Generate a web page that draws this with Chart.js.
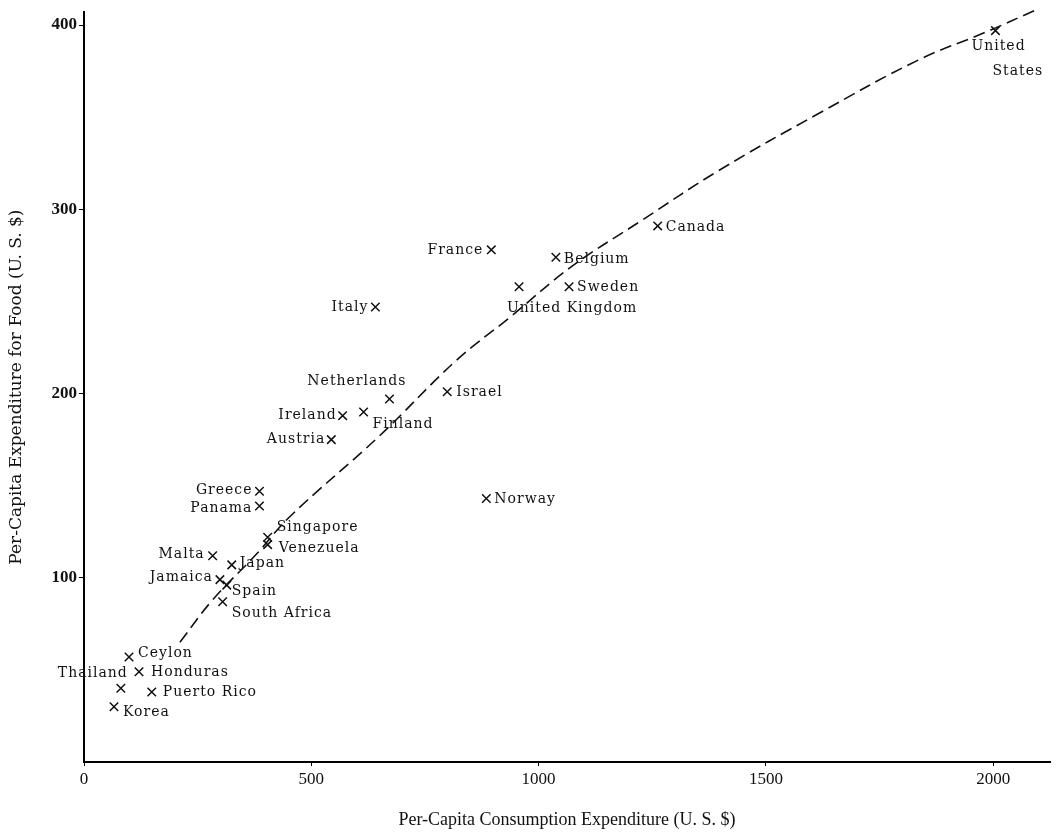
<!DOCTYPE html>
<html>
<head>
<meta charset="utf-8">
<script src="https://cdn.jsdelivr.net/npm/chart.js@4"></script>
<style>
  html, body { margin: 0; padding: 0; background: #fff; }
  #wrap { width: 1059px; height: 837px; }
</style>
</head>
<body>
<div id="wrap"><canvas id="foodChart" width="1059" height="837"></canvas></div>
<script>
// Countries, per-capita consumption expenditure (x) and food expenditure (y), U.S. $
const countries = [
  "United States", "Canada", "France", "Belgium", "United Kingdom", "Sweden",
  "Italy", "Israel", "Netherlands", "Ireland", "Finland", "Austria",
  "Greece", "Panama", "Norway", "Singapore", "Venezuela", "Malta",
  "Japan", "Jamaica", "Spain", "South Africa", "Ceylon", "Honduras",
  "Thailand", "Puerto Rico", "Korea"
];
const consumption = [
  2005, 1262, 896, 1038, 957, 1067,
  641, 799, 672, 569, 615, 544,
  386, 386, 885, 404, 404, 283,
  325, 299, 314, 305, 99, 121,
  81, 149, 66
];
const foodSpending = [
  397, 291, 278, 274, 258, 258,
  247, 201, 197, 188, 190, 175,
  147, 139, 143, 122, 118, 112,
  107, 99, 96, 87, 57, 49,
  40, 38, 30
];

// Dashed trend curve
const curveX = [211, 283, 380, 452, 650, 819, 935, 1073, 1227, 1396, 1616, 1835, 1982, 2092];
const curveY = [65, 88, 113, 133, 177, 218, 241, 269, 294, 321, 352, 381, 396, 408];

const xTicks = [0, 500, 1000, 1500, 2000];
const yTicks = [100, 200, 300, 400];

/**
 * Label placement (pixel offsets from the marker, text alignment)
 */
const labelPlacement = {
  "United States": { align: "left", lines: [["United", -24, 16], ["States", -3, 41]] },
  "Canada": { align: "left", dx: 8, dy: 1 },
  "France": { align: "right", dx: -8, dy: 1 },
  "Belgium": { align: "left", dx: 8, dy: 2 },
  "United Kingdom": { align: "left", dx: -12, dy: 22 },
  "Sweden": { align: "left", dx: 8, dy: 1 },
  "Italy": { align: "right", dx: -7, dy: 0 },
  "Israel": { align: "left", dx: 9, dy: 1 },
  "Netherlands": { align: "right", dx: 17, dy: -18 },
  "Ireland": { align: "right", dx: -6, dy: 0 },
  "Finland": { align: "left", dx: 9, dy: 12 },
  "Austria": { align: "right", dx: -6, dy: 0 },
  "Greece": { align: "right", dx: -7, dy: -1 },
  "Panama": { align: "right", dx: -7, dy: 2 },
  "Norway": { align: "left", dx: 8, dy: 1 },
  "Singapore": { align: "left", dx: 9, dy: -10 },
  "Venezuela": { align: "left", dx: 11, dy: 4 },
  "Malta": { align: "right", dx: -8, dy: -1 },
  "Japan": { align: "left", dx: 8, dy: -2 },
  "Jamaica": { align: "right", dx: -7, dy: -2 },
  "Spain": { align: "left", dx: 5, dy: 6 },
  "South Africa": { align: "left", dx: 9, dy: 12 },
  "Ceylon": { align: "left", dx: 9, dy: -4 },
  "Honduras": { align: "left", dx: 12, dy: 1 },
  "Thailand": { align: "right", dx: 7, dy: -15 },
  "Puerto Rico": { align: "left", dx: 11, dy: 0 },
  "Korea": { align: "left", dx: 9, dy: 6 },
};

const SERIF = "'DejaVu Serif', 'Liberation Serif', serif";
const TIMES = "'Liberation Serif', serif";

// draws the country names beside each cross
const pointLabels = {
  id: "pointLabels",
  afterDatasetsDraw(chart) {
    const meta = chart.getDatasetMeta(1);
    const ctx = chart.ctx;
    ctx.save();
    ctx.fillStyle = "#111";
    ctx.font = "14px " + SERIF;
    if ("letterSpacing" in ctx) ctx.letterSpacing = "1px";
    ctx.textBaseline = "middle";
    meta.data.forEach((pt, i) => {
      const name = countries[i];
      const p = labelPlacement[name];
      if (!p) return;
      ctx.textAlign = p.align;
      const lines = p.lines || [[name, p.dx, p.dy]];
      lines.forEach(([txt, dx, dy]) => ctx.fillText(txt, pt.x + dx, pt.y + dy));
    });
    ctx.restore();
  }
};

const scatterPoints = consumption.map((x, i) => ({ x, y: foodSpending[i] }));
const curvePoints = curveX.map((x, i) => ({ x, y: curveY[i] }));

new Chart(document.getElementById("foodChart"), {
  type: "scatter",
  data: {
    datasets: [
      {
        label: "Trend",
        data: curvePoints,
        showLine: true,
        clip: false,
        borderColor: "#111",
        borderWidth: 1.6,
        borderDash: [12, 6],
        pointRadius: 0,
        tension: 0.4,
      },
      {
        label: "Countries",
        data: scatterPoints,
        pointStyle: "crossRot",
        pointRadius: 6,
        borderColor: "#111",
        borderWidth: 1.5,
        backgroundColor: "#111",
      },
    ],
  },
  options: {
    responsive: false,
    animation: false,
    layout: { padding: { left: 0, right: 9, top: 8, bottom: 0 } },
    plugins: {
      legend: { display: false },
      tooltip: { enabled: false },
    },
    scales: {
      x: {
        type: "linear",
        min: 0,
        max: 2125,
        afterBuildTicks: (s) => { s.ticks = xTicks.map(v => ({ value: v })); },
        afterFit: (s) => { s.height = 75; },
        border: { display: true, color: "#000", width: 2 },
        grid: { display: true, drawOnChartArea: false, drawTicks: true, tickLength: 4, color: "#000" },
        ticks: {
          color: "#111",
          padding: 3,
          callback: (v) => String(v),
          font: { family: TIMES, size: 17 },
        },
        title: {
          display: true,
          text: "Per-Capita Consumption Expenditure (U. S. $)",
          color: "#111",
          font: { family: TIMES, size: 18 },
          padding: { top: 10, bottom: 6 },
        },
      },
      y: {
        type: "linear",
        min: 0,
        max: 407,
        afterBuildTicks: (s) => { s.ticks = yTicks.map(v => ({ value: v })); },
        afterFit: (s) => { s.width = 84; },
        border: { display: true, color: "#000", width: 2 },
        grid: { display: true, drawOnChartArea: false, drawTicks: true, tickLength: 5, color: "#000" },
        ticks: {
          color: "#111",
          padding: 2,
          callback: (v) => String(v),
          font: { family: TIMES, size: 17, weight: "bold" },
        },
        title: {
          display: true,
          text: "Per-Capita Expenditure for Food (U. S. $)",
          color: "#111",
          font: { family: SERIF, size: 17 },
          padding: { top: 6, bottom: 0 },
        },
      },
    },
  },
  plugins: [pointLabels],
});
</script>
</body>
</html>
